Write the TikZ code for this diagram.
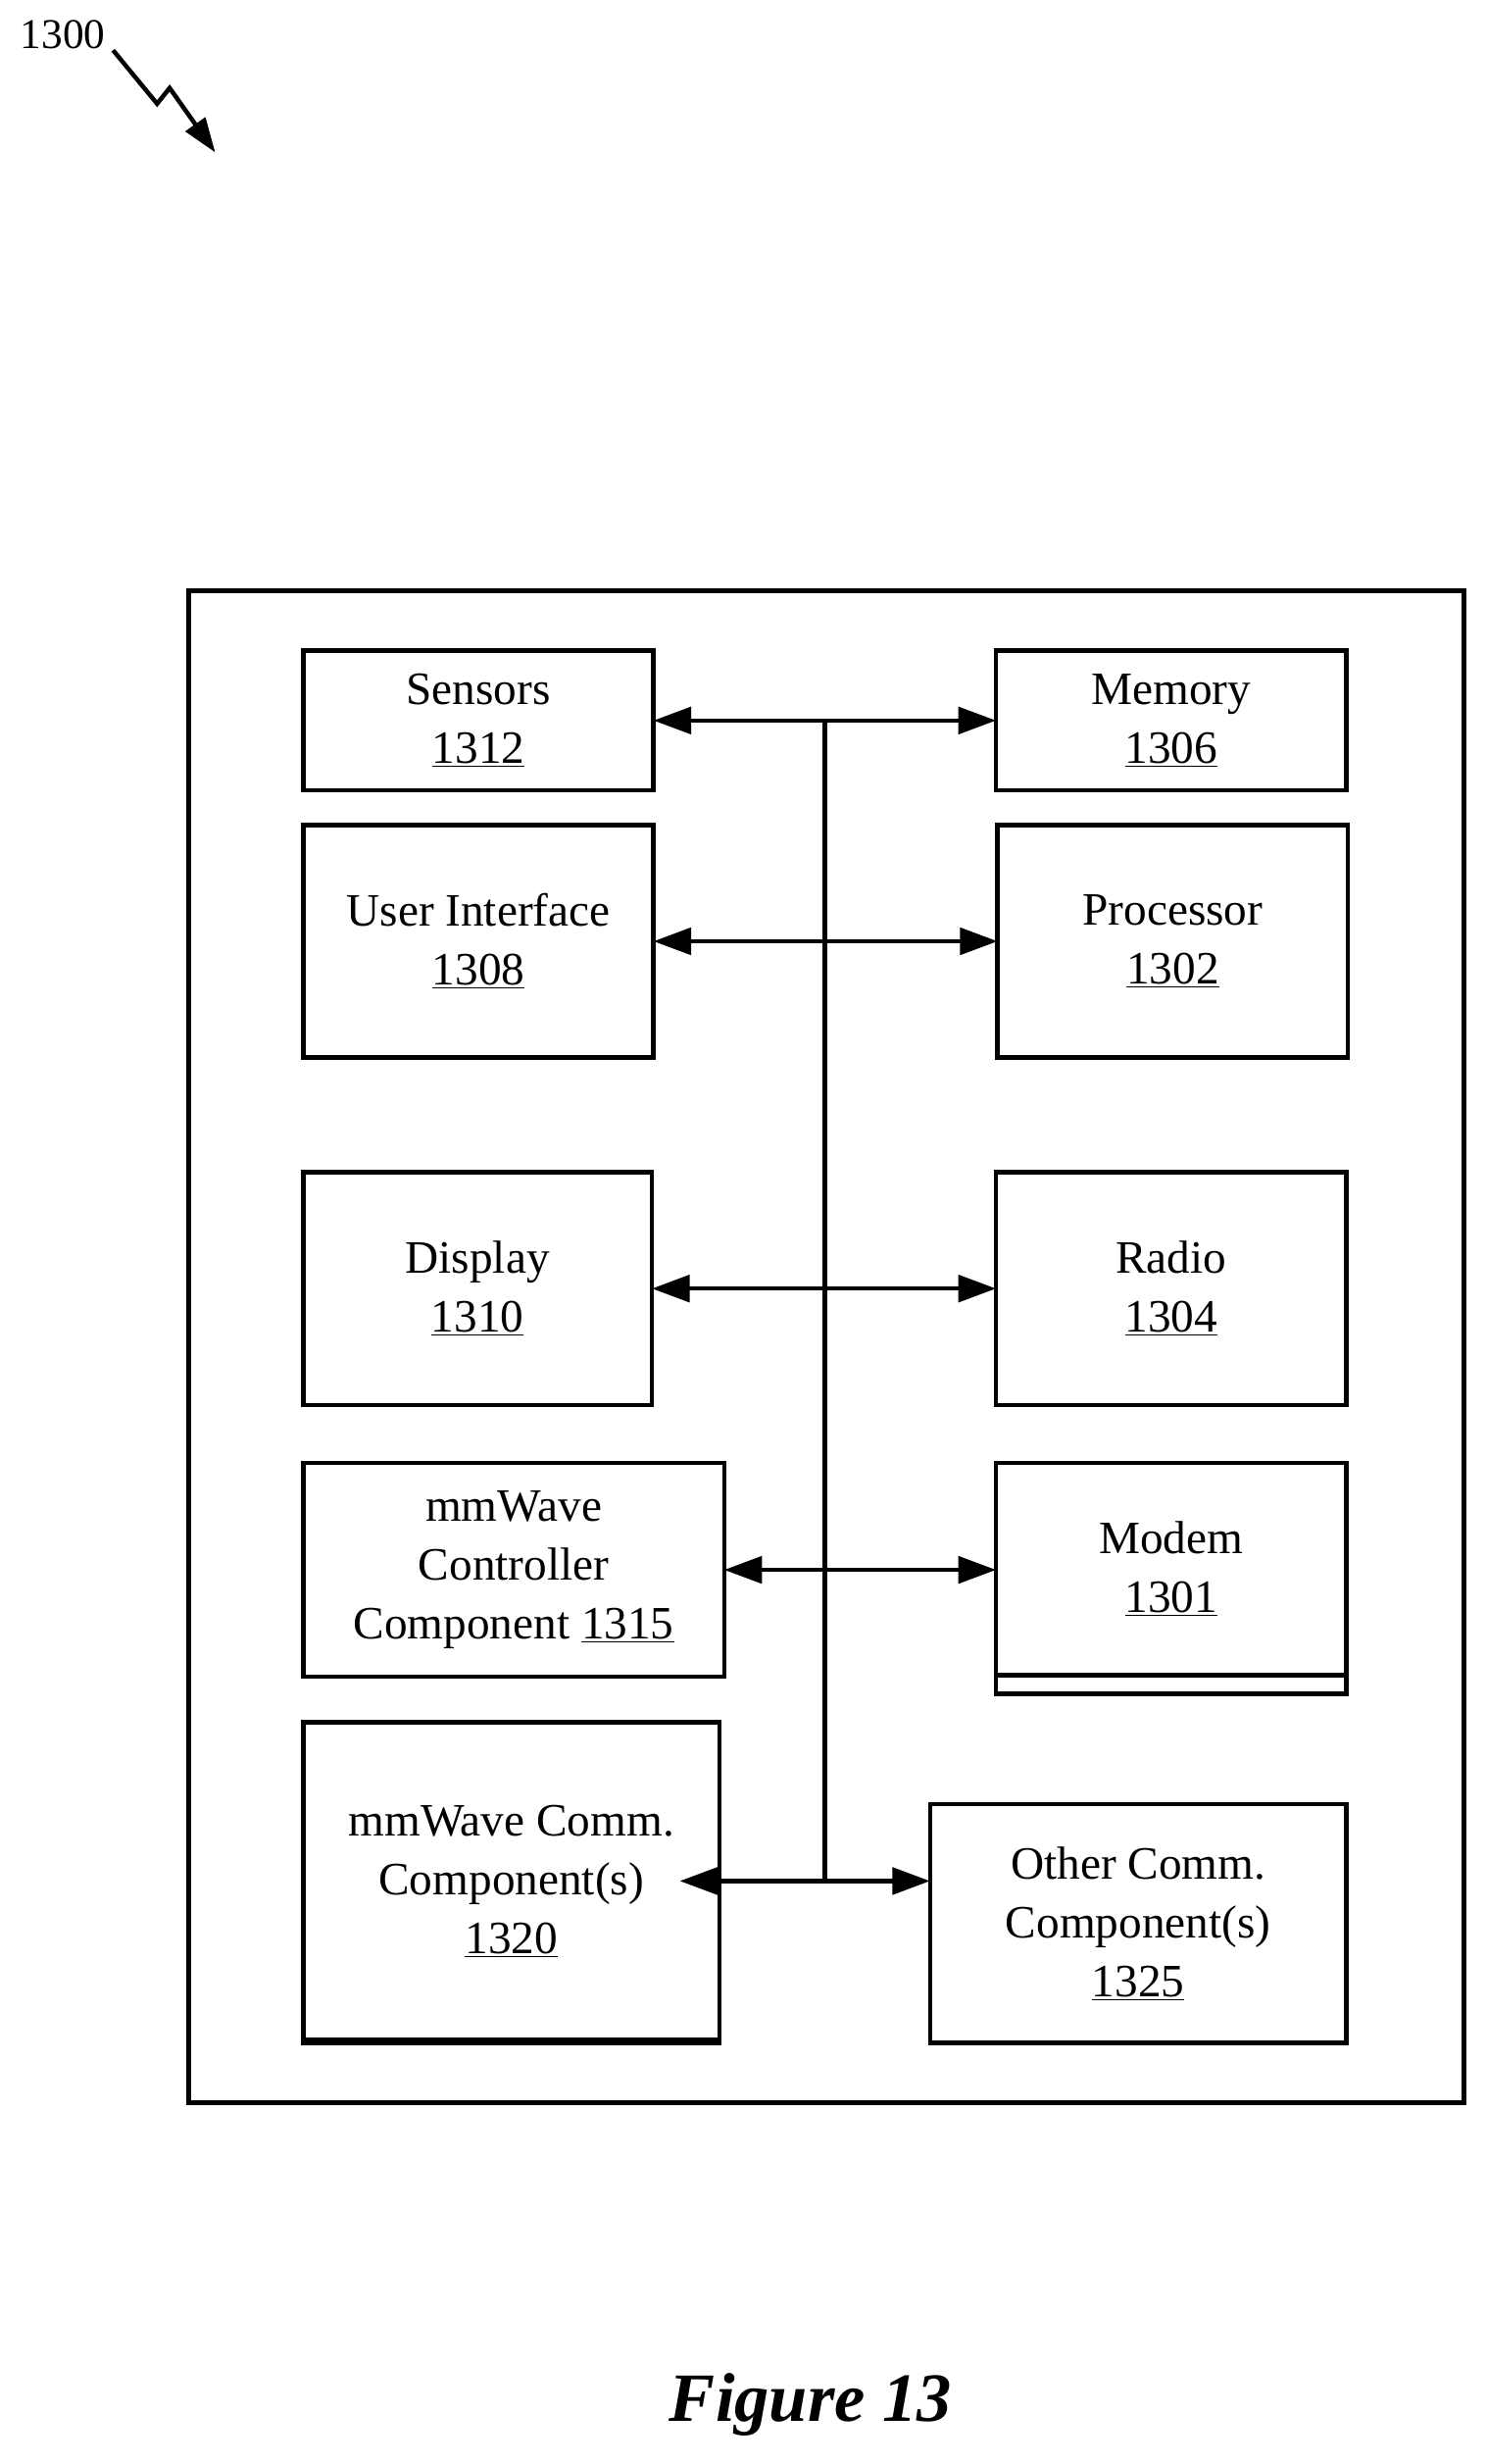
\documentclass[tikz,border=0pt]{standalone}
\usepackage{fontspec}
\setmainfont{Liberation Serif}
\usetikzlibrary{arrows.meta}
\begin{document}
\begin{tikzpicture}[x=1pt,y=-1pt,
  box/.style={draw,line width=2.8pt},
  lbl/.style={font=\fontsize{29.5}{37.5}\selectfont,align=center},
  arr/.style={line width=2.8pt,{Triangle[length=24pt,width=17pt]}-{Triangle[length=24pt,width=17pt]}}]
\useasboundingbox (0,0) rectangle (946,1568);
\draw[box] (120,376) rectangle (932,1338);
\newcommand\bx[6]{\draw[box] (#2,#3) rectangle (#4,#5); \node[lbl] (#1) at ({(#2+#4)/2},{(#3+#5)/2}) {#6};
 \coordinate (#1L) at (#2,{(#3+#5)/2}); \coordinate (#1R) at (#4,{(#3+#5)/2});}
\bx{sen}{193}{414}{416}{503}{Sensors\\\underline{1312}}
\bx{mem}{634}{414}{857}{503}{Memory\\\underline{1306}}
\bx{ui}{193}{525}{416}{673}{User Interface\\\underline{1308}}
\bx{pro}{635}{525}{858}{673}{Processor\\\underline{1302}}
\bx{dis}{193}{746}{415}{894}{Display\\\underline{1310}}
\bx{rad}{634}{746}{857}{894}{Radio\\\underline{1304}}
\bx{mmc}{193}{931}{461}{1067}{mmWave\\Controller\\Component \underline{1315}}
\bx{mod}{634}{931}{857}{1066}{Modem\\\underline{1301}}
\draw[box] (634,1066) -- (634,1078) -- (857,1078) -- (857,1066);
\bx{mcc}{193}{1096}{458}{1298}{mmWave Comm.\\Component(s)\\\underline{1320}}
\draw[box] (193,1298) -- (193,1300) -- (458,1300) -- (458,1298);
\coordinate (othL) at (592,1197);
\draw[box] (592,1148) rectangle (857,1300);
\node[lbl] (oth) at (724.5,1224) {Other Comm.\\Component(s)\\\underline{1325}};
\coordinate (bt) at (525,459); \coordinate (bb) at (525,1197);
\draw[line width=2.8pt] (bt) -- (bb);
\draw[arr] (senR) -- (memL);
\draw[arr] (uiR) -- (proL);
\draw[arr] (disR) -- (radL);
\draw[arr] (mmcR) -- (mmcR -| modL);
\draw[arr] (mcc.east |- bb) -- (othL);
\node[font=\fontsize{27}{30}\selectfont] (n1300) at (40,22) {1300};
\coordinate (z1) at (72,32);
\draw[line width=2.8pt,-{Triangle[length=22pt,width=15pt]}] (z1) -- (100,66) -- (108,56) -- (137,97);
\node[font=\fontsize{44}{48}\selectfont\bfseries\itshape] (fig) at (516,1530) {Figure 13};
\end{tikzpicture}
\end{document}
